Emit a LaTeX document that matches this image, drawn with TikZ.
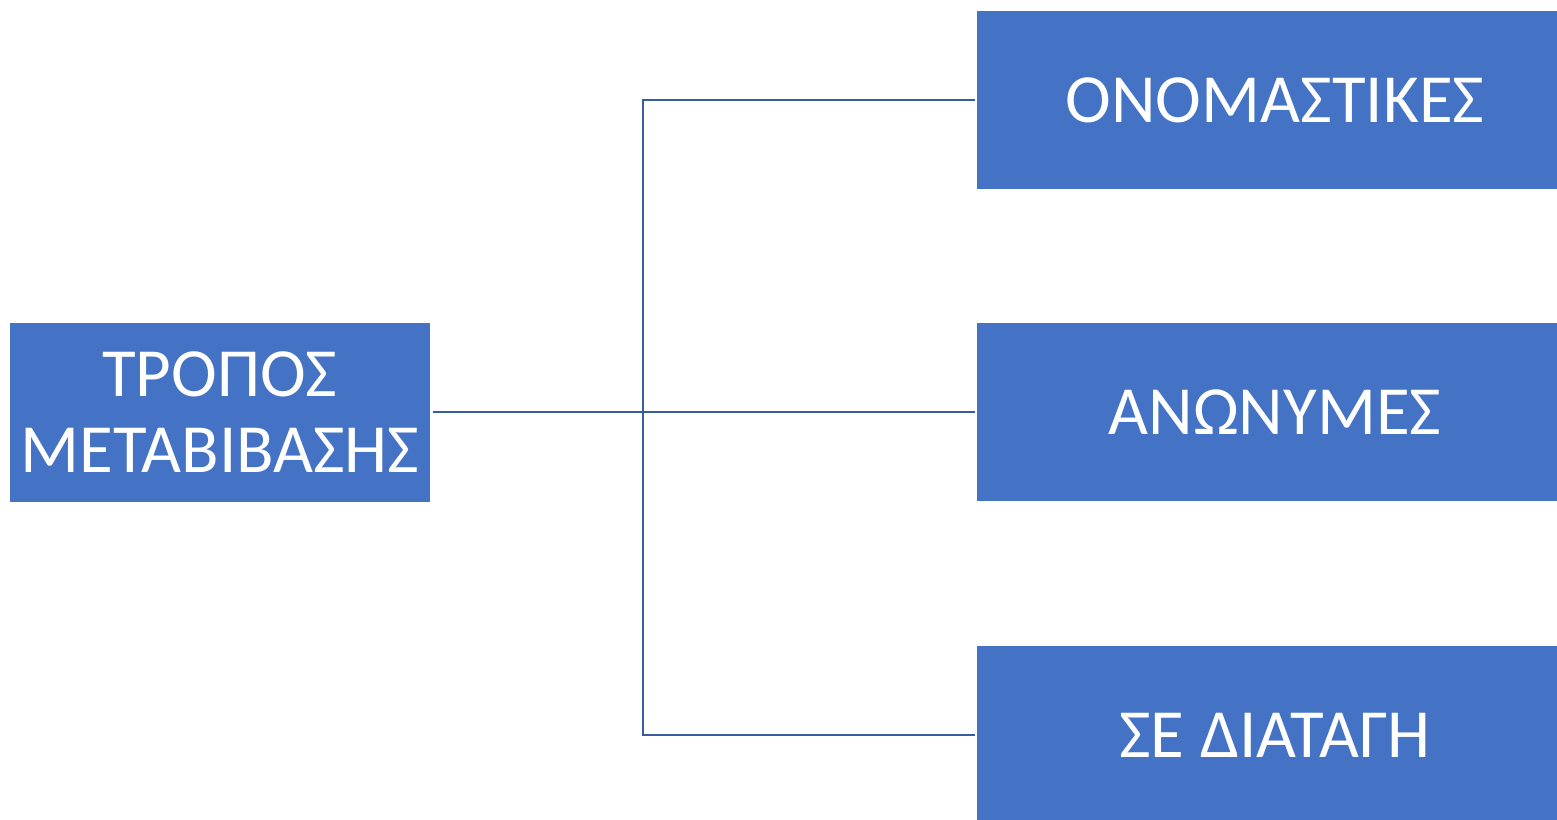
\documentclass[tikz,border=0pt]{standalone}
\usepackage{fontspec}
\setmainfont{Carlito}
\definecolor{boxblue}{HTML}{4472C4}
\definecolor{linkblue}{HTML}{3A5BA0}
\begin{document}
\begin{tikzpicture}[x=1pt,y=-1pt,
  box/.style={fill=boxblue, draw=none, text=white, inner sep=0pt, font=\fontsize{69}{76}\selectfont, align=center, minimum height=178pt},
  link/.style={draw=linkblue, line width=2.5pt}]
\useasboundingbox (0,0) rectangle (1557,819);
\node[box, minimum width=420pt, minimum height=179pt] (root) at (220,412.5) {ΤΡΟΠΟΣ\\ΜΕΤΑΒΙΒΑΣΗΣ};
\node[box, minimum width=580pt] (a) at (1267,100) {\hspace*{16pt}ΟΝΟΜΑΣΤΙΚΕΣ};
\node[box, minimum width=580pt] (b) at (1267,412) {\hspace*{16pt}ΑΝΩΝΥΜΕΣ};
\node[box, minimum width=580pt] (c) at (1267,735) {\hspace*{16pt}ΣΕ ΔΙΑΤΑΓΗ};
\coordinate (rootE) at ([xshift=3pt,yshift=0.5pt]root.east);
\coordinate (aW) at ([xshift=-2pt]a.west);
\coordinate (bW) at ([xshift=-2pt]b.west);
\coordinate (cW) at ([xshift=-2pt]c.west);
\coordinate (j) at (643,412);
\draw[link] (rootE) -- (j);
\draw[link] (aW) -| (j |- cW) -- (cW);
\draw[link] (j) -- (bW);
\end{tikzpicture}
\end{document}
